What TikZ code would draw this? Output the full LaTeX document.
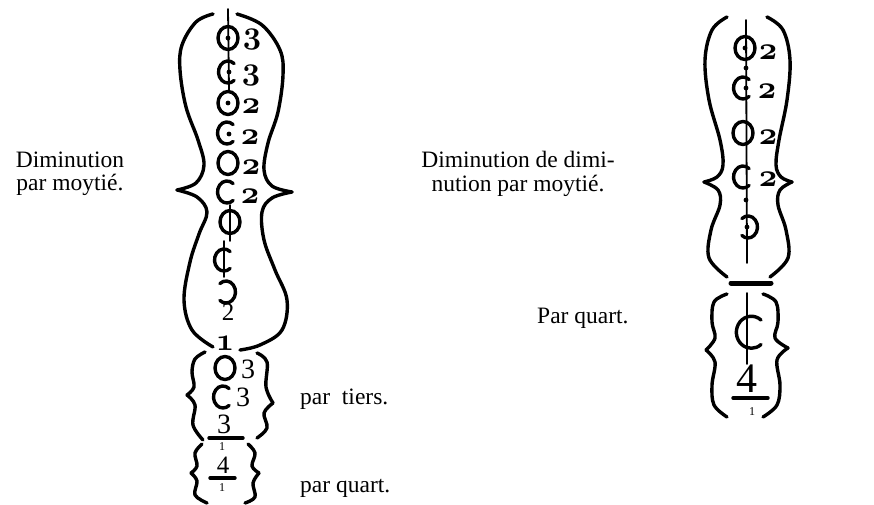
\RequirePackage{fix-cm}
\documentclass[tikz,border=0pt]{standalone}
\usepackage{fontspec}
\setmainfont{Liberation Serif}
\usetikzlibrary{positioning}
\newcommand\osnum[1]{{\usefont{OML}{cmm}{b}{it}#1}}
\tikzset{
  every picture/.style={line cap=round},
  outline/.style={line width=3.4pt, line join=round},
  sign/.style={line width=3.4pt},
  stem/.style={line width=1.8pt},
  num/.style={inner sep=0pt, font=\fontsize{32}{32}\selectfont},
  lnum/.style={inner sep=0pt, font=\fontsize{28}{28}\selectfont},
  snum/.style={inner sep=0pt, font=\fontsize{12}{12}\selectfont},
  caption/.style={inner sep=0pt, align=center, font=\fontsize{23.5}{23.5}\selectfont},
  pics/signO/.style={code={\draw[sign] (0,0) ellipse (10pt and 11.5pt);}},
  pics/signC/.style={code={\draw[sign] (50:9.5pt and 11pt) arc[start angle=50, end angle=310, x radius=9.5pt, y radius=11pt];}},
  pics/signRC/.style={code={\draw[sign] (130:9.5pt and 11pt) arc[start angle=130, end angle=-130, x radius=9.5pt, y radius=11pt];}},
  pics/dotmark/.style={code={\fill (0,0) circle (2.4pt);}},
}

\begin{document}
\begin{tikzpicture}[x=1pt, y=-1pt]
  \useasboundingbox (0,0) rectangle (874,505);

  % captions
  \node[caption] (capl) at (70,174) {Diminution\\par moytié.};
  \node[caption] (capr) at (518,174) {Diminution de dimi-\\nution par moytié.};
  \node[caption, anchor=west] (tiers) at (300,399) {par\ \ tiers.};
  \node[caption, anchor=west] (quart) at (300,488) {par quart.};
  \node[caption, anchor=west] (quartr) at (537,318) {Par quart.};

  % left figure, outline
  \draw[outline] plot[smooth, tension=0.6] coordinates {(213,14) (196,22) (182,45) (180,70) (186,107) (198,140) (204,165) (196,183) (177,190)};
  \draw[outline] plot[smooth, tension=0.6] coordinates {(177,190) (197,197) (207,212) (199,234) (190,262) (184,300) (192,330) (213,347)};
  \draw[outline] plot[smooth, tension=0.6] coordinates {(237,14) (262,25) (280,50) (283,75) (278,112) (268,143) (264,170) (272,186) (292,192)};
  \draw[outline] plot[smooth, tension=0.6] coordinates {(292,192) (272,198) (262,212) (264,240) (275,270) (287,300) (282,330) (260,345) (240,350)};

  % left figure, signs
  \coordinate (la) at (228,9);
  \coordinate (lb) at (229,90);
  \draw[stem] (la) -- (lb);
  \pic (s1) at (228,38) {signO};  \pic at (228,38) {dotmark};
  \node[num] (d1) at (252,40) {\osnum{3}};
  \pic (s2) at (228,72) {signC};  \pic at (229,72) {dotmark};
  \node[num] (d2) at (251,76) {\osnum{3}};
  \pic (s3) at (228,103) {signO}; \pic at (228,103) {dotmark};
  \node[num] (d3) at (251,106) {\osnum{2}};
  \pic (s4) at (227,133) {signC}; \pic at (229,134) {dotmark};
  \node[num] (d4) at (250,137) {\osnum{2}};
  \pic (s5) at (228,163) {signO};
  \node[num] (d5) at (251,167) {\osnum{2}};
  \pic (s6) at (227,192) {signC};
  \node[num] (d6) at (250,196) {\osnum{2}};
  \pic (s7) at (230,222) {signO};
  \coordinate (pa) at (230,205);
  \coordinate (pb) at (230,241);
  \draw[stem] (pa) -- (pb);
  \pic (s8) at (224,260) {signC};
  \coordinate (ca) at (224,241);
  \coordinate (cb) at (224,277);
  \draw[stem] (ca) -- (cb);
  \pic (s9) at (226,292) {signRC};
  \node[lnum, font=\fontsize{25}{25}\selectfont] (d7) at (228,312) {2};
  \node[num] (d8) at (225,343) {\osnum{1}};

  % left figure, lower braces
  \draw[outline] plot[smooth, tension=0.6] coordinates {(205,352) (195,359) (192,372) (194,387) (187,395)};
  \draw[outline] plot[smooth, tension=0.6] coordinates {(187,395) (195,405) (193,425) (203,440)};
  \draw[outline] plot[smooth, tension=0.6] coordinates {(202,444) (195,453) (197,466) (191,473)};
  \draw[outline] plot[smooth, tension=0.6] coordinates {(191,473) (197,481) (195,495) (207,503)};
  \draw[outline] plot[smooth, tension=0.6] coordinates {(257,353) (267,362) (266,387) (273,403)};
  \draw[outline] plot[smooth, tension=0.6] coordinates {(273,403) (264,413) (267,428) (257,438)};
  \draw[outline] plot[smooth, tension=0.6] coordinates {(248,444) (255,453) (252,466) (259,473)};
  \draw[outline] plot[smooth, tension=0.6] coordinates {(259,473) (253,483) (255,497) (245,503)};

  \pic (t1) at (225,368) {signO};
  \node[lnum] (e1) at (248,369) {3};
  \pic (t2) at (223,397) {signC};
  \node[lnum] (e2) at (243,397) {3};
  \node[lnum] (e3) at (224,424) {3};
  \coordinate (fa) at (209,438);
  \coordinate (fb) at (243,438);
  \draw[sign] (fa) -- (fb);
  \node[snum] (e4) at (222,447) {1};
  \node[lnum, font=\fontsize{25}{25}\selectfont] (e5) at (223,465) {4};
  \coordinate (ga) at (210,478);
  \coordinate (gb) at (235,478);
  \draw[sign] (ga) -- (gb);
  \node[snum] (e6) at (222,488) {1};

  % right figure, outline
  \draw[outline] plot[smooth, tension=0.6] coordinates {(727,17) (712,30) (705,60) (709,100) (720,140) (723,165) (717,177) (704,182)};
  \draw[outline] plot[smooth, tension=0.6] coordinates {(704,182) (718,190) (720,205) (711,230) (709,258) (727,277)};
  \draw[outline] plot[smooth, tension=0.6] coordinates {(767,17) (783,30) (790,60) (787,100) (779,140) (776,165) (781,177) (792,182)};
  \draw[outline] plot[smooth, tension=0.6] coordinates {(792,182) (780,190) (778,205) (786,230) (788,258) (770,277)};
  \coordinate (ba) at (731,283);
  \coordinate (bb) at (771,283);
  \draw[line width=5pt] (ba) -- (bb);

  % right figure, signs
  \coordinate (ra) at (746,20);
  \coordinate (rb) at (747,263);
  \draw[stem] (ra) -- (rb);
  \pic (r1) at (745,48) {signO};  \pic at (745,48) {dotmark};
  \node[num] (q1) at (768,52) {\osnum{2}};
  \pic at (746,68) {dotmark};
  \pic (r2) at (743,88) {signC};  \pic at (746,88) {dotmark};
  \node[num] (q2) at (767,91) {\osnum{2}};
  \pic (r3) at (743,133) {signO};
  \node[num] (q3) at (768,137) {\osnum{2}};
  \pic (r4) at (743,177) {signC};
  \node[num] (q4) at (768,179) {\osnum{2}};
  \pic at (746,200) {dotmark};
  \pic (r5) at (748,227) {signRC}; \pic at (747,227) {dotmark};

  % right figure, lower braces
  \draw[outline] plot[smooth, tension=0.6] coordinates {(727,294) (714,302) (712,322) (715,338) (706,350)};
  \draw[outline] plot[smooth, tension=0.6] coordinates {(706,350) (715,362) (712,385) (714,405) (727,417)};
  \draw[outline] plot[smooth, tension=0.6] coordinates {(763,294) (776,302) (778,322) (775,338) (788,348)};
  \draw[outline] plot[smooth, tension=0.6] coordinates {(788,348) (777,360) (780,385) (777,405) (763,417)};
  \draw[sign] (761,320) arc[start angle=50, end angle=310, x radius=15pt, y radius=16pt];
  \coordinate (va) at (747,293);
  \coordinate (vb) at (747,364);
  \draw[stem] (va) -- (vb);
  \node[inner sep=0pt, font=\fontsize{42}{42}\selectfont] (q5) at (747,379) {4};
  \coordinate (ha) at (733,398);
  \coordinate (hb) at (768,398);
  \draw[sign] (ha) -- (hb);
  \node[snum] (q6) at (752,412) {1};
\end{tikzpicture}
\end{document}
